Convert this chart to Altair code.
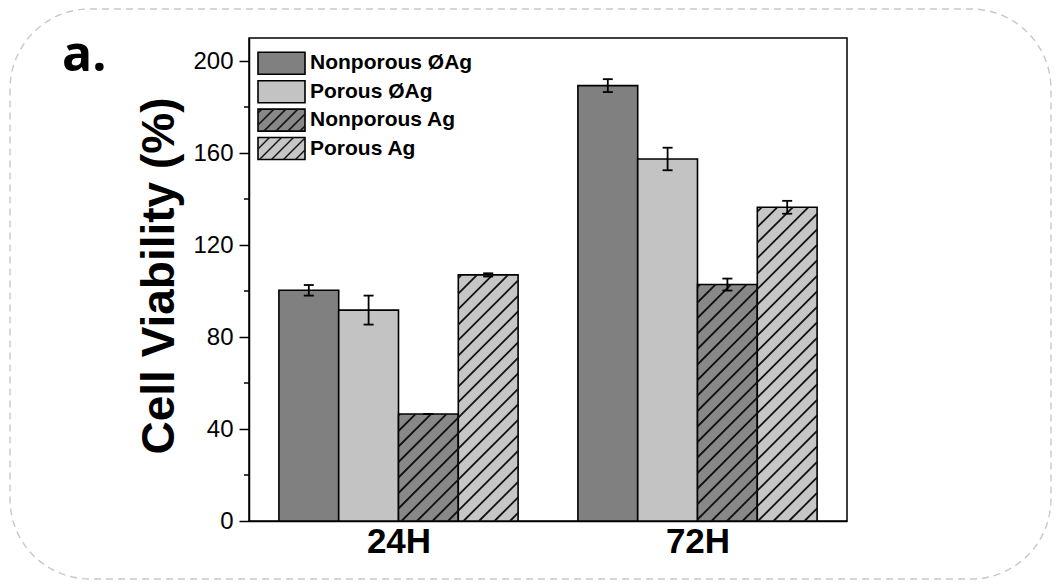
import json
import math
import altair as alt
import pandas as pd

# ---------------- data ----------------
groups = ["24H", "72H"]
series = ["Nonporous ØAg", "Porous ØAg", "Nonporous Ag", "Porous Ag"]
vals_24h = [100.3, 91.7, 46.5, 107.0]
vals_72h = [189.3, 157.4, 102.8, 136.4]
errs_24h = [2.3, 6.3, 0.0, 0.7]
errs_72h = [2.8, 4.9, 2.6, 2.8]
fills = ["#808080", "#c3c3c3", "#888888", "#c6c6c6"]
hatched = [False, False, True, True]
y_ticks = [0, 40, 80, 120, 160, 200]
y_minor = [20, 60, 100, 140, 180]

# ---------------- geometry helpers ----------------
W, H = 598, 483
YMAX = 210
X0, X1 = -0.5, 1.5
BAR = 0.2


def dx(px):
    return X0 + px / W * (X1 - X0)


def dy(py):
    return YMAX * (1 - py / H)


def pxx(d):
    return (d - X0) / (X1 - X0) * W


def pxy(d):
    return H * (1 - d / YMAX)


def hatch(x0p, y0p, x1p, y1p, sp):
    segs = []
    c = math.floor((x0p + y0p) / sp) * sp
    while c <= x1p + y1p:
        xs = max(x0p, c - y1p)
        xe = min(x1p, c - y0p)
        if xe - xs > 0.8:
            segs.append((xs, c - xs, xe, c - xe))
        c += sp
    return segs


CAP = 5 / W * (X1 - X0)

rows, hrows = [], []
for gi, (g, vals, errs) in enumerate(zip(groups, [vals_24h, vals_72h], [errs_24h, errs_72h])):
    for si, s in enumerate(series):
        c = gi + (si - 1.5) * BAR
        v, e = vals[si], errs[si]
        rows.append(dict(group=g, series=s, value=v, base=0, x=c - BAR / 2, x2=c + BAR / 2,
                         xc=c, lo=v - e, hi=v + e, cl=c - CAP, cr=c + CAP, fill=fills[si]))
        if hatched[si]:
            for (a, b, cc, d) in hatch(pxx(c - BAR / 2), pxy(v), pxx(c + BAR / 2), pxy(0), 15.5):
                hrows.append(dict(x=dx(a), y=dy(b), x2=dx(cc), y2=dy(d)))
df = pd.DataFrame(rows)
hdf = pd.DataFrame(hrows)

leg, lh = [], []
for si, s in enumerate(series):
    top = 14.3 + 28.4 * si
    leg.append(dict(series=s, x=dx(9), x2=dx(56), y=dy(top), y2=dy(top + 22),
                    tx=dx(61), ty=dy(top + 11), fill=fills[si]))
    if hatched[si]:
        for (a, b, cc, d) in hatch(9, top, 56, top + 22, 12):
            lh.append(dict(x=dx(a), y=dy(b), x2=dx(cc), y2=dy(d)))
ldf = pd.DataFrame(leg)
lhdf = pd.DataFrame(lh)

xs = alt.Scale(domain=[X0, X1], nice=False, zero=False)
ys = alt.Scale(domain=[0, YMAX], nice=False, zero=False)

label_expr = json.dumps(groups) + "[datum.value]"

x_axis = alt.Axis(values=[0, 1], labelExpr=label_expr, ticks=False, grid=False, title=None,
                  labelFontSize=35, labelFontWeight="bold", labelColor="black",
                  labelPadding=3, domainColor="black", domainWidth=1.5, labelFont="Liberation Sans")
y_axis = alt.Axis(values=y_ticks, tickSize=10, tickWidth=1.5, tickColor="black",
                  domainColor="black", domainWidth=1.5, labelFontSize=24, labelColor="black",
                  labelPadding=6, grid=False, labelFont="Liberation Sans",
                  title="Cell Viability (%)", titleFontSize=46, titleFontWeight="bold",
                  titleColor="black", titleFont="Liberation Sans", titleX=-76, titleY=H / 2 - 4,
                  titleAlign="center", titleBaseline="alphabetic", titleAngle=270)

one = pd.DataFrame({"k": [0]})

border = alt.Chart(one).mark_rect(
    fillOpacity=0, stroke="#c8c8c8", strokeWidth=1.4, strokeDash=[7, 5], cornerRadius=80
).encode(x=alt.value(-239), x2=alt.value(802), y=alt.value(-29), y2=alt.value(541))

label_a = alt.Chart(one).mark_text(
    text="a.", font="Open Sans", fontSize=50, fontWeight="bold", align="left",
    baseline="alphabetic", color="black"
).encode(x=alt.value(-187), y=alt.value(33))

bars = alt.Chart(df).mark_rect(stroke="black", strokeWidth=1.6).encode(
    x=alt.X("x:Q", scale=xs, axis=x_axis),
    x2="x2:Q",
    y=alt.Y("value:Q", scale=ys, axis=y_axis),
    y2="base:Q",
    fill=alt.Fill("fill:N", scale=None),
)

hatch_l = alt.Chart(hdf).mark_rule(color="#111111", strokeWidth=1.8).encode(
    x=alt.X("x:Q", scale=xs), x2="x2:Q",
    y=alt.Y("y:Q", scale=ys), y2="y2:Q",
)

err_v = alt.Chart(df).mark_rule(color="black", strokeWidth=1.8).encode(
    x=alt.X("xc:Q", scale=xs),
    y=alt.Y("lo:Q", scale=ys), y2="hi:Q",
)
err_lo = alt.Chart(df).mark_rule(color="black", strokeWidth=1.8).encode(
    x=alt.X("cl:Q", scale=xs), x2="cr:Q",
    y=alt.Y("lo:Q", scale=ys),
)
err_hi = alt.Chart(df).mark_rule(color="black", strokeWidth=1.8).encode(
    x=alt.X("cl:Q", scale=xs), x2="cr:Q",
    y=alt.Y("hi:Q", scale=ys),
)

minor = alt.Chart(pd.DataFrame({"v": y_minor})).mark_rule(color="black", strokeWidth=1.5).encode(
    y=alt.Y("v:Q", scale=ys), x=alt.value(-5), x2=alt.value(0),
)

leg_rect = alt.Chart(ldf).mark_rect(stroke="black", strokeWidth=1.6).encode(
    x=alt.X("x:Q", scale=xs), x2="x2:Q",
    y=alt.Y("y:Q", scale=ys), y2="y2:Q",
    fill=alt.Fill("fill:N", scale=None),
)
leg_hatch = alt.Chart(lhdf).mark_rule(color="#111111", strokeWidth=1.5).encode(
    x=alt.X("x:Q", scale=xs), x2="x2:Q",
    y=alt.Y("y:Q", scale=ys), y2="y2:Q",
)
leg_text = alt.Chart(ldf).mark_text(
    align="left", baseline="middle", fontSize=21, fontWeight="bold",
    font="Liberation Sans", color="black"
).encode(
    x=alt.X("tx:Q", scale=xs),
    y=alt.Y("ty:Q", scale=ys),
    text="series:N",
)

chart = alt.layer(
    border, label_a, bars, hatch_l, err_v, err_lo, err_hi, minor, leg_rect, leg_hatch, leg_text
).properties(
    width=W, height=H,
    background="white",
    padding={"left": 241, "top": 30, "right": 206, "bottom": 60},
    autosize=alt.AutoSizeParams(type="none"),
).configure_view(stroke="black", strokeWidth=1.5)

chart.save("out.html", embed_options={"renderer": "svg", "actions": False})
